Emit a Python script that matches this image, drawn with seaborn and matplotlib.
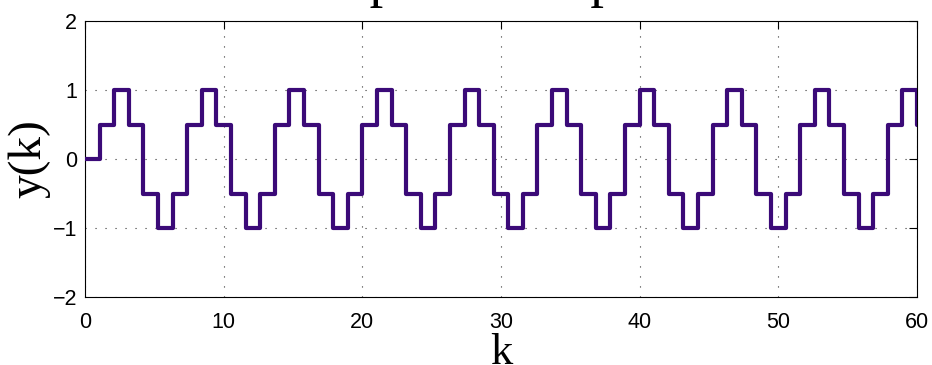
import matplotlib
matplotlib.use("Agg")
import matplotlib.pyplot as plt
import pandas as pd
import seaborn as sns

# Sample instants k (58 samples spread over 0..60)
k_values = [0.00, 1.05, 2.11, 3.16, 4.21, 5.26, 6.32, 7.37, 8.42, 9.47,
            10.53, 11.58, 12.63, 13.68, 14.74, 15.79, 16.84, 17.89, 18.95, 20.00,
            21.05, 22.11, 23.16, 24.21, 25.26, 26.32, 27.37, 28.42, 29.47, 30.53,
            31.58, 32.63, 33.68, 34.74, 35.79, 36.84, 37.89, 38.95, 40.00, 41.05,
            42.11, 43.16, 44.21, 45.26, 46.32, 47.37, 48.42, 49.47, 50.53, 51.58,
            52.63, 53.68, 54.74, 55.79, 56.84, 57.89, 58.95, 60.00]

# Output samples y(k)
y_values = [0.0,
            0.5, 1.0, 0.5, -0.5, -1.0, -0.5,
            0.5, 1.0, 0.5, -0.5, -1.0, -0.5,
            0.5, 1.0, 0.5, -0.5, -1.0, -0.5,
            0.5, 1.0, 0.5, -0.5, -1.0, -0.5,
            0.5, 1.0, 0.5, -0.5, -1.0, -0.5,
            0.5, 1.0, 0.5, -0.5, -1.0, -0.5,
            0.5, 1.0, 0.5, -0.5, -1.0, -0.5,
            0.5, 1.0, 0.5, -0.5, -1.0, -0.5,
            0.5, 1.0, 0.5, -0.5, -1.0, -0.5,
            0.5, 1.0, 0.5]

x_ticks = [0, 10, 20, 30, 40, 50, 60]
y_ticks = [-2, -1, 0, 1, 2]
y_tick_labels = ["\u22122", "\u22121", "0", "1", "2"]

title_text = "Discrete output of the periodic wave"

sns.set_theme(style="white")
plt.rcParams["font.family"] = ["Liberation Sans", "DejaVu Sans"]

fig = plt.figure(figsize=(9.32, 3.65), dpi=100)
W, H = 932, 365
ax = fig.add_axes([85 / W, 1 - 297 / H, (917 - 85) / W, (297 - 21) / H])

df = pd.DataFrame({"k": k_values, "y": y_values})
sns.lineplot(data=df, x="k", y="y", ax=ax, drawstyle="steps-post",
             color="#3b0a78", linewidth=3.0, errorbar=None, zorder=3)

ax.set_xlim(0, 60)
ax.set_ylim(-2, 2)
ax.set_xticks(x_ticks)
ax.set_xticklabels([str(v) for v in x_ticks])
ax.set_yticks(y_ticks)
ax.set_yticklabels(y_tick_labels)

ax.grid(True, color="0.2", linestyle=(0, (1, 8)), linewidth=0.8)
for s in ax.spines.values():
    s.set_visible(True)
    s.set_color("black")
    s.set_linewidth(0.8)

ax.tick_params(axis="both", direction="in", length=6, width=0.8,
               top=True, right=True, labelsize=15.5, colors="black")
ax.tick_params(axis="x", pad=10.5)
ax.tick_params(axis="y", pad=5.5)

ax.set_xlabel("k", family="Liberation Serif", fontsize=32, labelpad=0, color="black")
ax.set_ylabel("y(k)", family="Liberation Serif", fontsize=34, labelpad=2, color="black")

fig.text(501 / W, 1 + 3.7 / H, title_text, ha="center", va="baseline",
         family="Liberation Serif", fontsize=39, color="black")

fig.savefig("out.png", dpi=100)
